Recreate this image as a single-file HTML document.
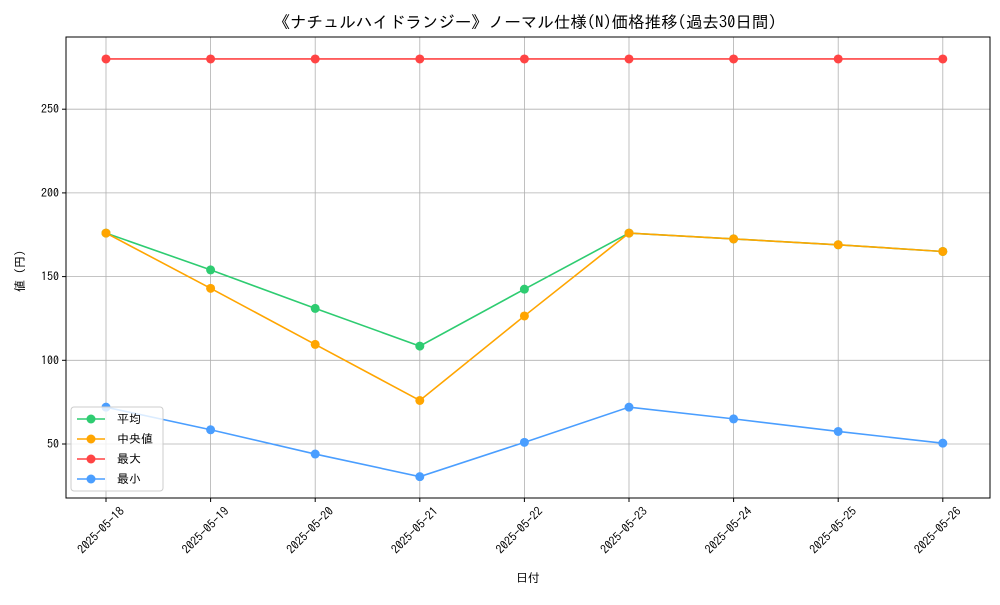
<!DOCTYPE html>
<html><head><meta charset="utf-8"><style>
body{margin:0;background:#fff}
svg text{font-family:"IPAGothic","Noto Sans CJK JP",sans-serif;fill:#000}
</style></head><body>
<svg id="c" width="1000" height="600" viewBox="0 0 1000 600"></svg>
<script>
const categories=["2025-05-18","2025-05-19","2025-05-20","2025-05-21","2025-05-22","2025-05-23","2025-05-24","2025-05-25","2025-05-26"];
const avgValues=[176,154,131,108.5,142.5,176,172.5,169,165];
const medianValues=[176,143,109.5,76,126.5,176,172.5,169,165];
const maxValues=[280,280,280,280,280,280,280,280,280];
const minValues=[72,58.5,44,30.5,51,72,65,57.5,50.5];
const yTicks=[50,100,150,200,250];
const seriesNames=["平均","中央値","最大","最小"];
const colors=["#2ecc71","#ffa500","#ff4444","#4a9eff"];
const NS="http://www.w3.org/2000/svg";
const svg=document.getElementById('c');
const L=66,R=990,T=37,B=498;
const x0=106,dx=104.6;
const xs=i=>x0+i*dx;
const ys=v=>444-(v-50)*1.674;
function el(t,a,p){const e=document.createElementNS(NS,t);for(const k in a)e.setAttribute(k,a[k]);(p||svg).appendChild(e);return e;}
const grid=el('g',{});


categories.forEach((c,i)=>{el('line',{x1:xs(i),x2:xs(i),y1:T,y2:B,stroke:'#b0b0b0','stroke-width':0.8},grid);});
yTicks.forEach(v=>{el('line',{x1:L,x2:R,y1:ys(v),y2:ys(v),stroke:'#b0b0b0','stroke-width':0.8},grid);});
const xa=el('g',{});


categories.forEach((c,i)=>{
 el('line',{x1:xs(i),x2:xs(i),y1:B,y2:B+4,stroke:'#000'},xa);
 const ax=xs(i)+19, ay=B+14;
 const t=el('text',{x:ax,y:ay,'font-size':12,'text-anchor':'end',transform:`rotate(-45 ${ax} ${ay})`},xa);t.textContent=c;
});
const ya=el('g',{});


yTicks.forEach(v=>{
 el('line',{x1:L-4,x2:L,y1:ys(v),y2:ys(v),stroke:'#000'},ya);
 const t=el('text',{x:L-7,y:ys(v)+4,'font-size':12,'text-anchor':'end'},ya);t.textContent=v;
});
const series=[avgValues,medianValues,maxValues,minValues];
series.forEach((s,k)=>{
 const g=el('g',{});
 
 
 el('polyline',{points:s.map((v,i)=>xs(i)+','+ys(v)).join(' '),fill:'none',stroke:colors[k],'stroke-width':1.6},g);
 s.forEach((v,i)=>{const c=el('circle',{cx:xs(i),cy:ys(v),r:4.5,fill:colors[k]},g);
  
  });
});
el('rect',{x:L,y:T,width:R-L,height:B-T,fill:'none',stroke:'#000','stroke-width':1});
const tt=el('text',{x:525,y:28,'font-size':16.5,'text-anchor':'middle'});tt.textContent="《ナチュルハイドランジー》ノーマル仕様(N)価格推移(過去30日間)";


const xt=el('text',{x:528,y:582,'font-size':12,'text-anchor':'middle'});xt.textContent="日付";


const yt=el('text',{x:24,y:268,'font-size':12,'text-anchor':'middle',transform:'rotate(-90 24 268)'});yt.textContent="値（円）";


const lg=el('g',{});


el('rect',{x:71,y:407,width:92,height:84,rx:3,fill:'#fff','fill-opacity':0.8,stroke:'#ccc'},lg);
seriesNames.forEach((n,k)=>{
 const y=419+k*20;
 const e=el('g',{},lg);
 
 
 el('line',{x1:77,x2:105,y1:y,y2:y,stroke:colors[k],'stroke-width':1.6},e);
 el('circle',{cx:91,cy:y,r:4.5,fill:colors[k]},e);
 const t=el('text',{x:117,y:y+4,'font-size':12},e);t.textContent=n;
});
</script>
</body></html>
